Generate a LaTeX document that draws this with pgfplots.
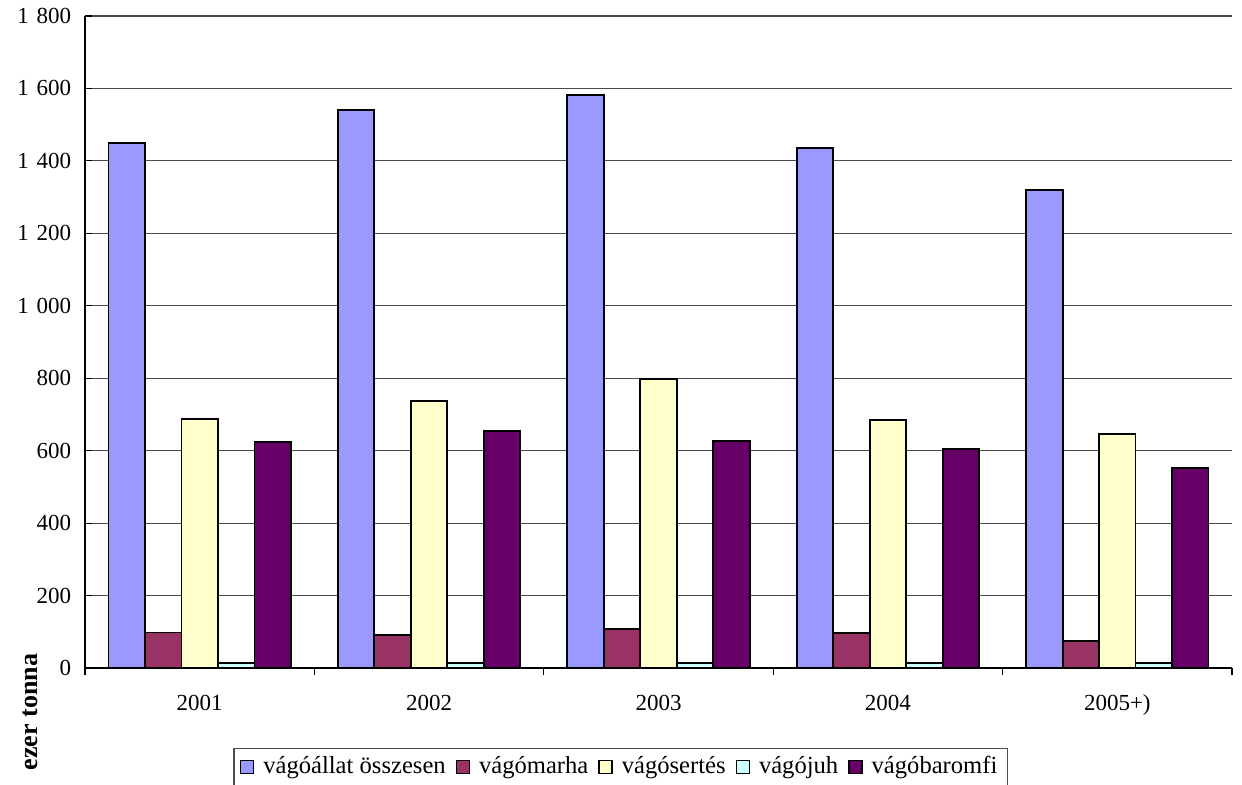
\documentclass[border=0pt]{standalone}
\usepackage{pgfplots}
\pgfplotsset{compat=1.18}
\usepackage{fontspec}
\setmainfont{Liberation Serif}
\definecolor{cTot}{HTML}{9999FF}
\definecolor{cMar}{HTML}{993366}
\definecolor{cSer}{HTML}{FFFFCC}
\definecolor{cJuh}{HTML}{CCFFFF}
\definecolor{cBar}{HTML}{660066}
\begin{document}
\fontsize{11.3}{13.5}\selectfont
\begin{tikzpicture}
\begin{axis}[name=ax,
  scale only axis, width=573.5pt, height=326pt,
  ybar=0pt, bar width=0.159,
  xmin=-0.5, xmax=4.5, ymin=0, ymax=1800,
  axis x line*=bottom, axis y line*=left,
  axis line style={line width=0.8pt},
  xtick={-0.5,0.5,1.5,2.5,3.5,4.5},
  x tick label as interval,
  xticklabels={2001,2002,2003,2004,2005+)},
  xtick style={line width=0.6pt, black},
  xtick align=outside, major tick length=3.5pt,
  ytick={0,200,...,1800},
  ytick style={line width=0.6pt, black},
  ymajorgrids, grid style={line width=0.6pt, black!70},
  tick label style={font=\fontsize{11.5}{13.5}\selectfont},
  /pgf/number format/assume math mode=true,
  /pgf/number format/1000 sep={\,\,},
  yticklabel style={xshift=-3pt},
  xticklabel style={yshift=-6pt},
  legend style={at={(0.467,-0.1227)}, anchor=north, legend columns=-1,
    draw=black!70, line width=0.6pt, font=\fontsize{12.3}{14.5}\selectfont,
    inner xsep=3pt, inner ysep=2pt,
    /tikz/every odd column/.append style={column sep=2.5pt},
    /tikz/every even column/.append style={column sep=3pt}},
  legend image code/.code={\draw[#1, line width=0.7pt] (0pt,-3.2pt) rectangle (6.5pt,3.2pt);},
  every axis plot/.append style={draw=black, line width=0.9pt},
  clip=false,
]
\addplot[fill=cTot] coordinates {(0,1450) (1,1540) (2,1582) (3,1436) (4,1320)};
\addplot[fill=cMar] coordinates {(0,98) (1,91) (2,108) (3,97) (4,75)};
\addplot[fill=cSer] coordinates {(0,688) (1,737) (2,798) (3,685) (4,646)};
\addplot[fill=cJuh] coordinates {(0,14) (1,14) (2,14) (3,14) (4,14)};
\addplot[fill=cBar] coordinates {(0,623) (1,654) (2,627) (3,605) (4,552)};
\legend{vágóállat összesen, vágómarha, vágósertés, vágójuh, vágóbaromfi}
\node[rotate=90, font=\bfseries\fontsize{13}{15}\selectfont, anchor=center]
  at ([xshift=-27.5pt, yshift=-22pt]rel axis cs:0,0) {ezer tonna};
\end{axis}
\pgfresetboundingbox
\path[use as bounding box] ([xshift=-42.5pt, yshift=-58pt]ax.south west) rectangle ([xshift=5pt, yshift=8pt]ax.north east);
\end{tikzpicture}
\end{document}
